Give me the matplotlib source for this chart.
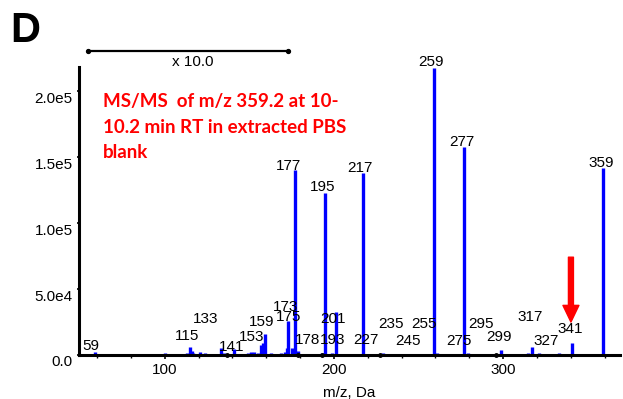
import matplotlib
matplotlib.use('Agg')
import matplotlib.pyplot as plt
import matplotlib.transforms as mtransforms
from matplotlib.ticker import MultipleLocator

# 峰的位置 (m/z) 和强度
mz = [59, 60, 98, 100, 102, 113, 115, 116, 117, 121, 124, 131, 133, 135, 137,
      141, 143, 147, 149, 151, 153, 155, 157, 158, 159, 163, 167, 169, 171, 172,
      173, 175, 177, 179, 181, 185, 189, 193, 195, 199, 201, 203, 207, 211, 215,
      217, 221, 229, 233, 239, 243, 249, 253, 259, 261, 267, 273, 277, 279, 283,
      289, 297, 299, 303, 309, 313, 315, 317, 321, 325, 329, 333, 337, 341, 345,
      351, 355, 359]
intensity = [2500, 800, 900, 1200, 700, 1500, 6000, 3000, 1500, 2500, 1200, 900,
             5000, 1500, 800, 4500, 1000, 800, 1200, 2000, 2500, 1500, 7500, 9000,
             16000, 1200, 1000, 1500, 2500, 5000, 26000, 5000, 140000, 3000, 1000,
             900, 800, 1500, 123000, 1200, 33000, 1000, 800, 1000, 900, 138000, 900,
             1200, 900, 800, 1000, 900, 1000, 218000, 1500, 900, 800, 158000, 1500,
             900, 800, 1000, 4000, 900, 800, 1000, 1500, 6000, 1200, 1000, 900, 1200,
             1000, 9000, 900, 800, 1000, 142000]

# 峰标签: 文本, x, y
lab_text = ['59', '115', '133', '141', '153', '159', '173', '175', '178', '193',
            '177', '195', '217', '259', '277', '359', '201', '227', '235', '245',
            '255', '275', '295', '299', '317', '327', '341']
lab_x = [56.4, 113.2, 124.4, 139.8, 151.6, 157.5, 171.7, 173.5, 184.7, 199.5,
         172.9, 193.6, 215.4, 257.4, 275.7, 357.8, 199.5, 219.0, 233.7, 243.8,
         253.2, 273.9, 286.9, 297.6, 315.9, 325.3, 339.4]
lab_y = [6800, 14400, 27300, 6100, 13600, 25000, 36400, 28800, 11400, 11400,
         143200, 127300, 141700, 222000, 161400, 145500, 27300, 11400, 23500, 10600,
         23500, 10600, 23500, 13600, 28800, 10600, 19700]

# 基线上的黑点
dot_x = [137, 179, 193, 227, 296]

yticks = [0, 50000, 100000, 150000, 200000]
ytick_labels = ['0.0', '5.0e4', '1.0e5', '1.5e5', '2.0e5']
xticks = [100, 200, 300]

plt.rcParams['font.family'] = ['Liberation Sans', 'DejaVu Sans']

fig = plt.figure(figsize=(6.23, 3.99), dpi=100)
ax = fig.add_axes([79/623, 44/399, 541/623, 288/399])

ax.vlines(mz, 0, intensity, color='#0000ff', lw=2.4)
ax.plot(dot_x, [0]*len(dot_x), 'o', color='black', ms=2.5, clip_on=False, zorder=5)

for t, x, y in zip(lab_text, lab_x, lab_y):
    ax.text(x, y, t, ha='center', va='center', fontsize=11, color='black')

ax.set_xlim(49.35, 369.1)
ax.set_ylim(0, 218500)

for s in ['top', 'right']:
    ax.spines[s].set_visible(False)
ax.spines['left'].set_linewidth(2.2)
ax.spines['bottom'].set_linewidth(2.2)

ax.set_xticks(xticks)
ax.xaxis.set_minor_locator(MultipleLocator(20))
ax.set_yticks(yticks)
ax.set_yticklabels(ytick_labels)
ax.yaxis.set_minor_locator(MultipleLocator(10000))
ax.tick_params(axis='both', which='major', length=3, width=1.2, labelsize=11, pad=3)
ax.tick_params(axis='both', which='minor', length=2, width=1)
ax.tick_params(axis='y', which='both', direction='inout')

# y 轴标签向下偏移一点
off = mtransforms.ScaledTranslation(0, -6/100, fig.dpi_scale_trans)
for lbl in ax.get_yticklabels():
    lbl.set_transform(lbl.get_transform() + off)

ax.set_xlabel('m/z, Da', fontsize=11, labelpad=6)

# x 10.0 放大区间
ax.plot([54.7, 172.9], [231000, 231000], '-', color='black', lw=1.6, clip_on=False)
ax.plot([54.7, 172.9], [231000, 231000], 'o', color='black', ms=2.8, clip_on=False)
ax.text(116.3, 222500, 'x 10.0', ha='center', va='center', fontsize=11)

# 红色说明文字
ax.text(63.5, 198500, 'MS/MS  of m/z 359.2 at 10-\n10.2 min RT in extracted PBS\nblank',
        ha='left', va='top', color='red', fontsize=13.5, fontweight='bold',
        family=['Lato', 'DejaVu Sans'], linespacing=1.6)

# 红色箭头
ax.annotate('', xy=(340.1, 25000), xytext=(340.1, 74200),
            arrowprops=dict(facecolor='red', edgecolor='red', width=3.6,
                            headwidth=11.5, headlength=12, shrink=0))

fig.text(10/623, 1 - 31/399, 'D', fontsize=30, fontweight='bold', va='center', ha='left')

fig.savefig('out.png', dpi=100)
